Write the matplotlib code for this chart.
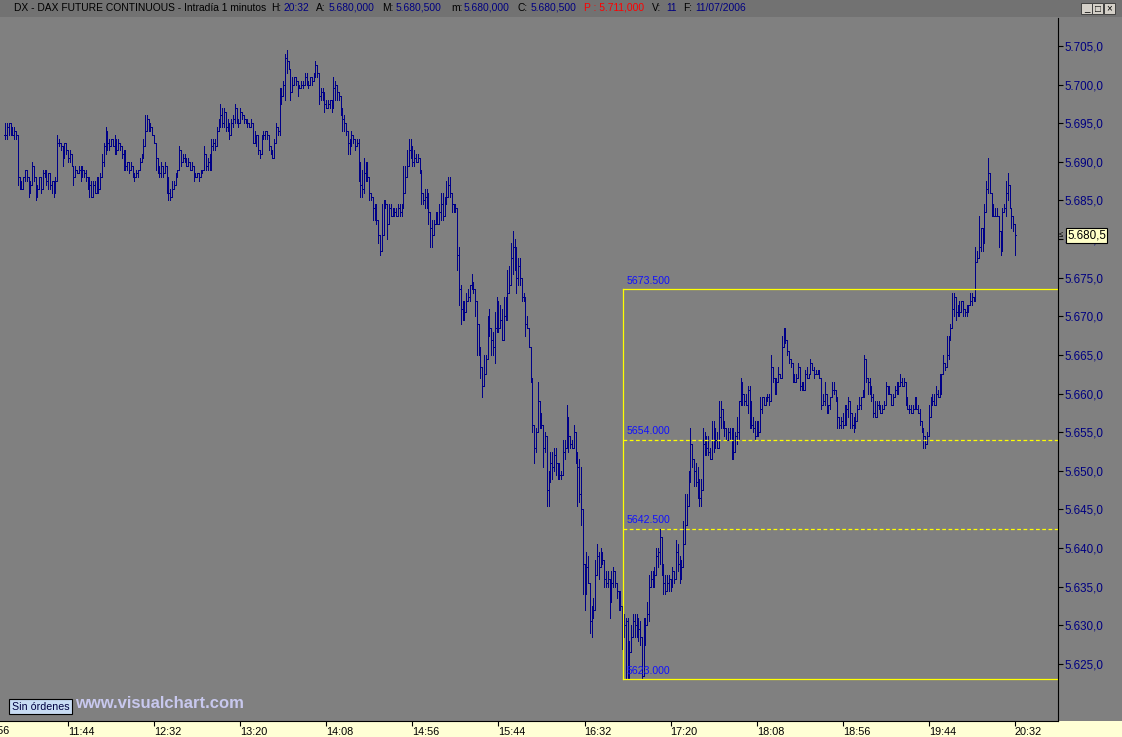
import numpy as np
import matplotlib.pyplot as plt
from matplotlib.collections import LineCollection
from matplotlib.patches import Rectangle
from matplotlib.transforms import blended_transform_factory

plt.rcParams['font.family'] = ['Liberation Sans', 'DejaVu Sans']

# 1-minute bars, points above 5600, one list per hour (first bar 11:09, last 20:32)
base = 5600.0
c11 = [93.5, 94.5, 95, 94.5, 93.5, 94, 93.5, 88, 87.5, 86.5, 88, 89, 88, 86, 87, 89.5, 88, 85.5, 86.5, 88,
       86.5, 88.5, 89, 87.5, 88.5, 87, 87.5, 86, 87.5, 92.5, 92.5, 92, 90.5, 92.5, 91.5, 90.5, 91, 89.5, 88, 89,
       88.5, 89, 88, 89, 88.5, 88, 86.5, 87, 85.5, 87, 86]
c12 = [87.5, 86.5, 88, 90, 92, 94, 92.5, 92, 93, 92, 93, 91.5, 92.5, 92, 91, 91.5, 89.5, 90, 89, 89.5,
       88.5, 88, 88.5, 89, 90, 90.5, 92, 94, 95.5, 94.5, 94.5, 93.5, 92.5, 90.5, 89, 88.5, 89.5, 88.5, 89.5, 88,
       86, 85.5, 86.5, 87, 88, 89, 91.5, 90, 90.5, 90.5, 89.5, 90, 89, 89.5, 88.5, 88, 88.5, 88, 88.5, 89]
c13 = [91, 89.5, 90, 89, 92, 92.5, 92, 94, 95, 96, 95, 96.5, 94.5, 95, 93.5, 95, 95.5, 97, 95.5, 95,
       96.5, 96, 95.5, 95, 95, 94.5, 95, 92.5, 93.5, 93.5, 91.5, 91, 93, 93.5, 94, 93.5, 92, 91.5, 90.5, 92.5,
       94.5, 94, 98, 98.5, 100, 103.5, 103, 102, 99, 100, 101, 100.5, 99.5, 99.5, 100, 100, 101, 100.5, 100, 101]
c14 = [100.5, 101, 102.5, 101.5, 98.5, 99, 98.5, 97.5, 97, 97.5, 98, 97, 99.5, 100, 99, 98.5, 97, 95.5, 95, 94,
       92.5, 92, 93.5, 93, 92, 92.5, 90, 87, 86.5, 88.5, 89, 88, 86, 85.5, 84, 83, 82.5, 80.5, 78.5, 80.5,
       84, 84.5, 82, 84, 83, 83.5, 83.5, 83, 84, 83.5, 84, 86, 88, 89.5, 91.5, 92, 90, 90.5, 90, 90.5]
c15 = [89, 86, 85, 85.5, 85, 83.5, 81.5, 80.5, 82, 82.5, 82, 83.5, 84.5, 83, 84.5, 85.5, 87, 86, 84.5, 84,
       84, 78, 73.5, 71, 70, 70.5, 72, 72.5, 74, 74.5, 73.5, 72, 69, 66, 63.5, 61, 62.5, 64.5, 67.5, 68.5,
       67, 66, 68.5, 70.5, 68.5, 69.5, 67, 70, 69.5, 73, 74, 77.5, 79, 77.5, 75, 76.5, 75, 72.5, 72.5, 69]
c16 = [68.5, 66, 62, 56, 53, 55, 59, 57.5, 56, 53, 54.5, 47.5, 48.5, 51, 50.5, 52, 51, 50, 49.5, 49.5,
       52.5, 53, 57, 54.5, 53.5, 53, 55, 52.5, 50.5, 47, 45, 38, 34, 37.5, 35.5, 30.5, 31, 32, 36.5, 39,
       37.5, 39, 38.5, 36, 35.5, 36, 33, 35.5, 37, 35.5, 34.5, 33.5, 32.5, 28.5, 30, 30.5, 23, 26.5, 28.5, 30.5]
c17 = [30, 31, 29.5, 28.5, 23.5, 28, 30, 31.5, 35, 36, 35, 36.5, 39, 39.5, 41.5, 38, 35.5, 34.5, 35.5, 36,
       35, 37, 36, 39.5, 38, 36, 37.5, 40.5, 43, 45.5, 48.5, 53.5, 51.5, 50, 48.5, 48, 46.5, 47.5, 53.5, 54,
       53, 52.5, 51.5, 54, 55.5, 54, 53, 57, 58, 56.5, 55.5, 54, 55, 54, 55.5, 52.5, 54.5, 55, 59, 61.5]
c18 = [60, 59, 58.5, 60.5, 58, 56, 55.5, 54.5, 56, 55, 58, 59.5, 58.5, 59.5, 59.5, 59, 63.5, 62, 60.5, 61.5,
       62.5, 62, 66, 68, 67, 65.5, 64.5, 64, 62.5, 61.5, 62, 63.5, 61, 61, 60.5, 62.5, 62, 62.5, 64, 63,
       62.5, 62.5, 62.5, 62, 58.5, 59, 60, 58, 58.5, 59.5, 60.5, 60.5, 59.5, 57, 56, 56.5, 56, 57.5, 58, 59]
c19 = [57.5, 56, 55.5, 56.5, 58, 58.5, 59.5, 60, 64.5, 62, 61.5, 60, 59.5, 57.5, 57, 58.5, 58.5, 57.5, 58, 58.5,
       61, 60, 60, 58.5, 59.5, 60.5, 60, 61, 61.5, 61, 61.5, 59.5, 58, 58, 57.5, 58, 58.5, 58, 57.5, 56.5,
       55.5, 54.5, 53.5, 54.5, 57, 58.5, 59, 58.5, 60, 59.5, 61, 62.5, 64, 63.5, 65, 67, 68.5, 71, 72.5, 70.5]
c20 = [71.5, 70.5, 72, 71, 70.5, 71, 71.5, 72, 72.5, 72.5, 77, 77.5, 79, 81.5, 79.5, 83.5, 86.5, 88.5, 86, 84,
       83, 83, 83, 81, 79, 83.5, 84, 86, 87, 84, 83, 82, 80.5]

h11 = [95, 95, 95, 95, 94, 94.5, 94, 91, 88, 87, 88, 89, 88.5, 87.5, 87.5, 90, 89.5, 88, 87, 88,
       87, 89, 89, 88.5, 88.5, 88.5, 87.5, 86.5, 88, 93.5, 93, 92.5, 91.5, 92.5, 92.5, 91.5, 91.5, 90.5, 89.5, 89.5,
       89, 89.5, 89.5, 89.5, 89, 89, 88, 88, 87.5, 87.5, 87.5]
h12 = [88, 88, 88.5, 91, 92.5, 94.5, 93.5, 93, 93, 93, 93.5, 93, 93, 92.5, 92, 91.5, 90, 90, 90, 90,
       88.5, 88.5, 89, 89, 90.5, 91, 93, 96, 96, 95, 95, 94.5, 93, 91.5, 89.5, 89.5, 90, 89.5, 90, 88.5,
       87, 86.5, 87.5, 87.5, 88.5, 89, 92, 91.5, 91, 91, 90.5, 90.5, 90, 90, 89, 88.5, 88.5, 88.5, 89, 89]
h13 = [92, 90.5, 90.5, 91, 93, 93, 93, 94.5, 95.5, 97.5, 97, 97, 95, 95.5, 94.5, 95.5, 96, 97.5, 96, 95.5,
       97, 96.5, 96, 95.5, 95.5, 95, 95.5, 94.5, 94, 93.5, 92, 91.5, 93.5, 94, 94, 94, 93, 92, 91, 93,
       95, 94.5, 99.5, 99.5, 100.5, 104, 104.5, 103, 101, 101, 101, 101, 100.5, 100, 100.5, 100.5, 101.5, 101.5, 100.5, 101]
h14 = [101, 101.5, 103, 102, 100, 99.5, 99.5, 99, 98, 98, 98, 98, 101, 100.5, 100, 99, 98, 96, 96, 94.5,
       93.5, 93, 94, 93.5, 93, 93, 93, 89, 89, 90.5, 90, 90, 87.5, 86, 85.5, 84.5, 84.5, 81.5, 80.5, 84.5,
       85, 85, 84.5, 84.5, 84.5, 84, 84, 84, 84.5, 84.5, 84.5, 89.5, 89.5, 91.5, 93, 93, 91, 91.5, 91, 91]
h15 = [90, 88, 86, 86.5, 86.5, 86, 82.5, 82.5, 82.5, 83.5, 83.5, 84.5, 86, 86, 85.5, 87.5, 88, 88, 86, 84.5,
       84.5, 84, 79, 74, 72, 72, 73, 73.5, 74, 75.5, 74.5, 73, 69, 68.5, 65.5, 63, 65, 65, 70, 71,
       68, 68, 70.5, 72.5, 72, 71.5, 71, 72.5, 72.5, 76, 76.5, 79.5, 81, 80, 79, 77.5, 77.5, 72.5, 73, 72]
h16 = [70, 66.5, 65.5, 58, 54, 55.5, 61.5, 56.5, 57, 55.5, 55, 50, 50, 52.5, 52.5, 53, 53, 51, 51, 50,
       54, 54, 58.5, 56, 54.5, 54, 56, 53.5, 52, 51.5, 50.5, 44, 36.5, 39.5, 39, 33, 32.5, 33.5, 38.5, 40.5,
       39.5, 40, 39.5, 38, 37, 37, 35.5, 37, 37.5, 37, 35.5, 34.5, 34.5, 32, 31.5, 31, 31, 28, 30, 31.5]
h17 = [31.5, 31.5, 31, 30.5, 28.5, 31, 31, 33, 36.5, 37, 37, 37.5, 40, 40, 42.5, 39, 36.5, 36.5, 36.5, 36.5,
       36, 37.5, 37, 41, 40.5, 39, 38.5, 43.5, 47, 47, 50, 55.5, 53, 51, 51, 50.5, 49, 49, 55.5, 55,
       54.5, 54.5, 53, 56.5, 56.5, 55.5, 55, 59, 59, 57.5, 56.5, 55.5, 55.5, 55.5, 55.5, 54.5, 55, 57, 59, 62]
h18 = [61.5, 60, 60, 61, 61, 59, 57, 56.5, 56.5, 56.5, 59.5, 59.5, 59.5, 59.5, 60, 60, 65, 62.5, 61.5, 62,
       63.5, 62.5, 67.5, 68.5, 68.5, 67, 65, 64.5, 63.5, 62.5, 62.5, 64, 63, 61.5, 61.5, 63, 63.5, 62.5, 64.5, 64,
       63.5, 63, 63, 63, 61.5, 60, 61.5, 58.5, 58.5, 59.5, 61.5, 61.5, 60, 59.5, 57, 57, 57.5, 58.5, 58.5, 59.5]
h19 = [58.5, 57, 57, 57.5, 58.5, 59.5, 59.5, 60.5, 65, 62.5, 62, 62, 61, 60, 59, 59, 59, 58.5, 58.5, 59,
       61.5, 61, 61, 60, 60, 61, 61.5, 61.5, 62.5, 62, 62, 61, 59.5, 58.5, 58.5, 58.5, 59.5, 59.5, 58.5, 58,
       56, 55, 54.5, 55, 58.5, 59.5, 60, 60, 61, 60.5, 62.5, 62.5, 65, 63.5, 67.5, 67.5, 69, 73, 73, 72]
h20 = [71.5, 72, 72, 71.5, 71, 71.5, 71.5, 73, 73, 72.5, 79, 78.5, 83, 81, 81, 84.5, 87.5, 90.5, 87.5, 85.5,
       84.5, 84, 84, 82.5, 80, 84, 84.5, 87.5, 88.5, 84.5, 84, 82, 80.5]

l11 = [93, 93, 93.5, 93.5, 93.5, 93, 93, 87, 86.5, 86.5, 86.5, 87.5, 87.5, 85.5, 86.5, 87, 87.5, 85, 86, 86.5,
       86, 87.5, 88, 87, 86.5, 86.5, 86, 85.5, 87, 87.5, 92, 91.5, 89.5, 91, 91, 90, 90, 89.5, 87, 88.5,
       88.5, 88.5, 87.5, 88.5, 88, 87.5, 86.5, 85.5, 85.5, 86, 86]
l12 = [86, 86, 87.5, 88.5, 89.5, 91, 91.5, 91.5, 92, 92, 91, 91, 92, 91.5, 90.5, 89, 89, 89, 88.5, 89,
       88, 87.5, 88, 88, 89.5, 90, 91.5, 92.5, 94, 94, 94, 93.5, 92.5, 89, 88.5, 88, 88, 88, 89, 86,
       85, 85, 86, 86.5, 87.5, 88, 89.5, 89.5, 90, 90, 89.5, 89.5, 89, 89, 87.5, 88, 88, 87.5, 88, 88.5]
l13 = [89, 89, 89, 89, 91.5, 91.5, 91.5, 93, 94.5, 94.5, 94.5, 94.5, 94, 94, 93, 94.5, 94.5, 95, 95, 94.5,
       95.5, 95.5, 95, 95, 94.5, 94.5, 94.5, 92.5, 93, 92, 91, 90.5, 91, 93, 93, 93, 91.5, 91, 90.5, 90.5,
       93.5, 93.5, 93.5, 97.5, 99, 98, 101.5, 102, 98, 99, 100, 100, 98.5, 99.5, 99.5, 99.5, 100, 100, 99.5, 100]
l14 = [100, 100.5, 101, 101, 97.5, 98, 98, 96.5, 97, 97, 97, 96.5, 98.5, 98, 98, 98, 96, 94, 94, 93.5,
       91, 91, 93, 92.5, 91.5, 92, 87.5, 85.5, 85.5, 86, 87.5, 87.5, 85, 85, 82.5, 82.5, 82, 79.5, 78, 79.5,
       83.5, 84, 80, 83, 83, 83, 83, 83, 83, 83, 83, 84, 87, 89, 90.5, 90.5, 89.5, 89.5, 90, 90]
l15 = [88.5, 84.5, 84.5, 84, 84, 82, 79, 79, 81, 82, 82, 83, 82.5, 82.5, 83.5, 85, 86, 85.5, 83.5, 83.5,
       83.5, 76, 71.5, 69, 69.5, 69.5, 71, 72, 72, 73.5, 73, 70, 65, 65, 62, 59.5, 62.5, 62.5, 65.5, 67.5,
       65, 65, 64, 68, 68, 69.5, 67, 69.5, 69.5, 72.5, 73, 75, 75.5, 76, 73, 74, 74, 72, 72, 67.5]
l16 = [68.5, 66, 61.5, 55, 51, 52.5, 56.5, 55.5, 55.5, 50.5, 52.5, 45.5, 45.5, 48.5, 49, 50, 49.5, 49, 49, 49,
       51.5, 51.5, 54.5, 52.5, 53, 53, 55, 51, 45.5, 46, 43, 34, 32, 36, 35.5, 29, 28.5, 31, 35, 36.5,
       36, 38, 38, 35, 35, 35, 31, 34, 35, 35, 33.5, 32, 32, 27, 29, 23, 23, 25.5, 26.5, 28.5]
l17 = [28.5, 28.5, 28, 27.5, 23, 27, 27.5, 30.5, 30.5, 35, 35, 35.5, 37.5, 37.5, 38, 36.5, 34, 34, 35, 34.5,
       34.5, 35.5, 35.5, 37, 37, 35.5, 36, 38.5, 43.5, 43.5, 46, 49.5, 50.5, 48, 48, 46.5, 45.5, 45.5, 51.5, 52,
       52, 52, 51.5, 52.5, 52.5, 53, 53, 55.5, 55.5, 55.5, 54.5, 54, 54, 54, 51.5, 51.5, 52.5, 53.5, 54, 58.5]
l18 = [58.5, 58.5, 58.5, 57.5, 55.5, 55.5, 55, 54, 54.5, 54.5, 56.5, 57.5, 58.5, 58.5, 59, 58.5, 61, 61.5, 60, 60,
       62, 62, 62, 67, 66.5, 65, 64, 63.5, 61.5, 61.5, 61.5, 62.5, 60.5, 60.5, 60.5, 61.5, 62, 62, 63, 63,
       62, 62.5, 62.5, 62, 58, 58.5, 58.5, 57.5, 57.5, 58, 60, 60, 59, 55.5, 55.5, 55.5, 55.5, 56, 56, 57]
l19 = [55.5, 55.5, 55, 56, 57, 58, 58, 59.5, 59.5, 61.5, 60, 60, 59, 57, 57, 57, 58, 57.5, 57.5, 58,
       59, 60, 60, 58.5, 59, 60, 60.5, 60.5, 61, 61, 61, 58.5, 58, 57.5, 57.5, 57.5, 58, 58, 57.5, 56,
       55, 53, 53, 53.5, 55.5, 58, 58.5, 58.5, 59.5, 59.5, 60, 60, 62.5, 63, 64.5, 64.5, 67, 70, 70, 69.5]
l20 = [70, 70, 70.5, 70, 70, 70, 70.5, 71.5, 71.5, 72, 72, 77, 78, 78.5, 78.5, 83, 85.5, 86, 86, 83,
       83, 83, 83, 79, 78, 78.5, 83.5, 83, 85, 84, 81.5, 81, 78]

first_bar = 11 * 60 + 9
fib_levels = [5673.5, 5654.0, 5642.5, 5623.0]
fib_dashed = [False, True, True, False]
fib_start = 16 * 60 + 53.5
time_ticks = np.arange(10 * 60 + 56, 20 * 60 + 33, 48)
price_ticks = np.arange(5625, 5706, 5)

closes = base + np.array(c11 + c12 + c13 + c14 + c15 + c16 + c17 + c18 + c19 + c20)
highs = base + np.array(h11 + h12 + h13 + h14 + h15 + h16 + h17 + h18 + h19 + h20)
lows = base + np.array(l11 + l12 + l13 + l14 + l15 + l16 + l17 + l18 + l19 + l20)
t = first_bar + np.arange(len(closes))
opens = np.r_[closes[0], closes[:-1]]

W, H = 1122, 737
fig = plt.figure(figsize=(W / 100, H / 100), dpi=100, facecolor='#808080')

def fx(px):
    return px / W

def fy(py):
    return 1 - py / H

# main chart area
ax = fig.add_axes([0, fy(721), fx(1058), (721 - 18) / H], facecolor='#808080')
ax.set_xlim(666.1, 1256.0)
ax.set_ylim(5617.62, 5708.62)
for s in ['left', 'top']:
    ax.spines[s].set_visible(False)
ax.spines['right'].set_color('black')
ax.spines['bottom'].set_color('black')

# OHLC bars: open tick left, close tick right
segs = []
for ti, o, hi, lo, c in zip(t, opens, highs, lows, closes):
    segs.append([(ti, min(lo, o, c)), (ti, max(hi, o, c))])
    segs.append([(ti - 0.45, o), (ti, o)])
    segs.append([(ti, c), (ti + 0.45, c)])
ax.add_collection(LineCollection(segs, colors='#000088', linewidths=0.6, antialiaseds=False))

# fibonacci box
x_end = ax.get_xlim()[1]
for lvl, dashed in zip(fib_levels, fib_dashed):
    ax.plot([fib_start, x_end], [lvl, lvl], color='#ffff00', lw=0.9,
            ls=(0, (3, 2)) if dashed else '-', clip_on=False)
    ax.text(fib_start + 2.2, lvl + 0.45, f"{lvl:.3f}", color='#1010ff', fontsize=7.6,
            va='bottom', ha='left')
ax.plot([fib_start, fib_start], [min(fib_levels), max(fib_levels)], color='#ffff00', lw=0.9)

# axes ticks
def eu(v):
    return f"{v:,.1f}".replace(',', 'X').replace('.', ',').replace('X', '.')

ax.yaxis.tick_right()
ax.set_yticks(price_ticks)
ax.set_yticklabels([eu(v) for v in price_ticks])
ax.tick_params(axis='y', direction='out', length=3.6, width=0.8, color='black',
               labelcolor='#000080', labelsize=8.4, pad=1.2)

lbls = [f"{m // 60}:{m % 60:02d}" for m in time_ticks]
ax.set_xticks(time_ticks[1:])
ax.set_xticklabels(lbls[1:], ha='left')
ax.tick_params(axis='x', direction='out', length=3.6, width=0.8, color='black',
               labelcolor='black', labelsize=7.8, pad=0.5)
trx = blended_transform_factory(ax.transData, ax.transAxes)
ax.text(time_ticks[0], -0.0075, lbls[0], transform=trx, fontsize=7.8, ha='left', va='top',
        clip_on=False)

# last price box
try_ = blended_transform_factory(ax.transAxes, ax.transData)
ax.text(1067 / 1058, closes[-1], eu(closes[-1]), transform=try_, fontsize=8.4, va='center',
        ha='left', color='black', zorder=10, clip_on=False,
        bbox=dict(boxstyle='square,pad=0.12', facecolor='#ffffc8', edgecolor='black', lw=0.8))
ax.text(1059 / 1058, closes[-1], '≤', transform=try_, fontsize=5.5, va='center', ha='left',
        color='black', clip_on=False)

# bottom time strip and title bar
fig.patches.append(Rectangle((0, 0), 1, 16 / H, transform=fig.transFigure,
                             facecolor='#ffffd5', edgecolor='none', zorder=-1))
fig.patches.append(Rectangle((0, fy(17)), 1, 17 / H, transform=fig.transFigure,
                             facecolor='#727272', edgecolor='none', zorder=-1))

header = [(14, "DX - DAX FUTURE CONTINUOUS - Intradía 1 minutos", 'black'),
          (271, "H:", 'black'), (284, "20:32", '#000080'),
          (316, "A:", 'black'), (329, "5.680,000", '#000080'),
          (382, "M:", 'black'), (396, "5.680,500", '#000080'),
          (451, "m:", 'black'), (464, "5.680,000", '#000080'),
          (518, "C:", 'black'), (531, "5.680,500", '#000080'),
          (584, "P : 5.711,000", '#ff0000'),
          (652, "V:", 'black'), (666, "11", '#000080'),
          (683, "F:", 'black'), (695, "11/07/2006", '#000080')]
for px, txt, col in header:
    fig.text(fx(px), fy(8), txt, color=col, fontsize=7.4, va='center', ha='left')

# window buttons
for bx, sym in [(1081, '_'), (1092, '□'), (1104, '×')]:
    fig.patches.append(Rectangle((fx(bx), fy(14)), 11 / W, 11 / H, transform=fig.transFigure,
                                 facecolor='#d4d0c8', edgecolor='#404040', lw=0.7))
    fig.text(fx(bx + 5.5), fy(8.5), sym, fontsize=7, ha='center', va='center', color='black')

fig.text(fx(12), fy(706.5), "Sin órdenes", fontsize=7.7, color='#000040', va='center', ha='left',
         bbox=dict(boxstyle='square,pad=0.25', facecolor='#c8dcf4', edgecolor='black', lw=0.8))
fig.text(fx(75), fy(704), "www.visualchart.com", fontsize=12, fontweight='bold', color='#c8c8ee',
         va='center', ha='left')

fig.savefig('out.png', dpi=100, facecolor=fig.get_facecolor())
